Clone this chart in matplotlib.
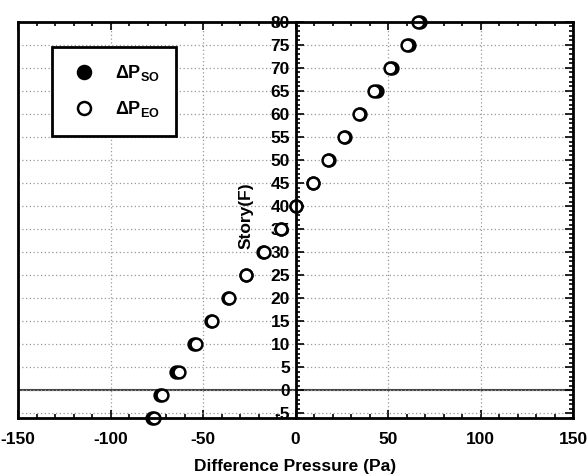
import matplotlib
matplotlib.use("Agg")
import matplotlib.pyplot as plt
from matplotlib.ticker import MultipleLocator

# fonte em negrito parecida com Arial
plt.rcParams['font.family'] = ['Liberation Sans', 'DejaVu Sans']
plt.rcParams['font.weight'] = 'bold'
plt.rcParams['axes.unicode_minus'] = False
plt.rcParams['mathtext.fontset'] = 'custom'
plt.rcParams['mathtext.rm'] = 'Liberation Sans:bold'
plt.rcParams['mathtext.it'] = 'Liberation Sans:bold'
plt.rcParams['mathtext.bf'] = 'Liberation Sans:bold'

# andares e diferenca de pressao (Pa)
andares = [80, 75, 70, 65, 60, 55, 50, 45, 40, 35, 30, 25, 20, 15, 10, 4, -1, -6]
dp_so = [67.5, 61.5, 52, 44, 35, 26.5, 18, 9.5, 0.5, -8, -17.5, -27, -36.5,
         -45.5, -55, -64.5, -73, -77.5]
dp_eo = [66, 60, 51, 42.5, 34.5, 26, 17.5, 9.5, 0, -8, -17, -26.5, -36,
         -45, -54, -63, -72, -76.5]

rotulo_so = r'$\Delta$P$_{\mathrm{SO}}$'
rotulo_eo = r'$\Delta$P$_{\mathrm{EO}}$'

fig = plt.figure(figsize=(5.87, 4.74), dpi=100)
ax = fig.add_axes([0.0307, 0.118, 0.9455, 0.836])

ax.plot(dp_so, andares, 'o', color='black', markersize=8.5,
        markeredgewidth=1.8, clip_on=False, label=rotulo_so)
ax.plot(dp_eo, andares, 'o', markerfacecolor='white', markeredgecolor='black',
        markersize=8.5, markeredgewidth=1.8, clip_on=False, label=rotulo_eo)

ax.axhline(0, color='#444444', linewidth=1.5, zorder=1)

ax.set_xlim(-150, 150)
ax.set_ylim(-6, 80)
ax.xaxis.set_major_locator(MultipleLocator(50))
ax.xaxis.set_minor_locator(MultipleLocator(10))
ax.yaxis.set_major_locator(MultipleLocator(5))
ax.yaxis.set_minor_locator(MultipleLocator(1))

# eixo y no meio (x = 0), moldura completa em volta
ax.spines['left'].set_position(('data', 0))
for s in ax.spines.values():
    s.set_linewidth(2)
ax.plot([0, 0], [0, 1], transform=ax.transAxes, color='black',
        linewidth=2, clip_on=False)

ax.tick_params(axis='both', which='both', direction='in', top=True,
               right=True, width=1.2)
ax.tick_params(axis='both', which='major', length=6, labelsize=12.5)
ax.tick_params(axis='both', which='minor', length=3)
ax.tick_params(axis='x', which='major', pad=10)
ax.tick_params(axis='y', which='major', pad=4)

ax.grid(True, which='major', linestyle=(0, (1, 2)), color='#999999',
        linewidth=0.9)

ax.set_xlabel('Difference Pressure (Pa)', fontsize=12.5, fontweight='bold',
              labelpad=9)
ax.set_ylabel('Story(F)', fontsize=12.5, fontweight='bold')
ax.yaxis.set_label_coords(0.425, 0.51)

leg = ax.legend(loc='upper left', bbox_to_anchor=(0.061, 0.937),
                borderaxespad=0, fancybox=False, edgecolor='black',
                framealpha=1, fontsize=13, markerscale=1.1,
                borderpad=0.9, labelspacing=0.9, handletextpad=0.8,
                handlelength=1.8)
leg.get_frame().set_linewidth(2)

fig.savefig('out.png', dpi=100)
